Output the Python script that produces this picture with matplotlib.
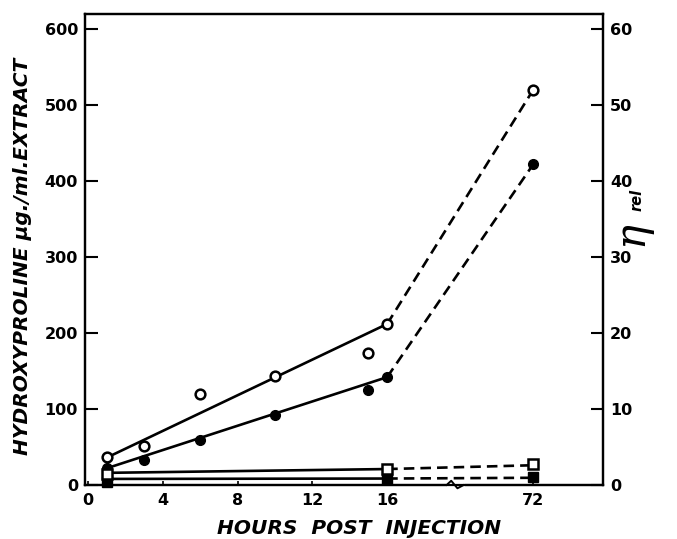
import numpy as np
import matplotlib
matplotlib.use("Agg")
import matplotlib.pyplot as plt

# ---------------- data ----------------
hours = [1, 3, 6, 10, 15, 16, 72]
hyp_open = [37, 51, 120, 143, 174, 212, 520]      # open circles (left axis)
hyp_filled = [22, 33, 59, 92, 125, 142, 422]      # filled circles (left axis)

sq_hours = [1, 16, 72]
eta_open = [1.4, 2.1, 2.7]                         # open squares (right axis)
eta_filled = [0.4, 0.8, 1.05]                      # filled squares (right axis)

# drawn trend lines (solid 1-16 h, dashed 16-72 h)
line_hours = [1, 16, 72]
hyp_open_line = [36, 212, 520]
hyp_filled_line = [22, 142, 422]
eta_open_line = [1.6, 2.1, 2.6]
eta_filled_line = [0.8, 0.85, 0.95]

xticks = [0, 4, 8, 12, 16, 72]
xticklabels = ["0", "4", "8", "12", "16", "72"]
yticks_left = [0, 100, 200, 300, 400, 500, 600]
yticks_right = [0, 10, 20, 30, 40, 50, 60]

# ---------------- broken x scale ----------------
K = 0.1394  # compression of the 16-72 h segment


def fwd(t):
    t = np.asarray(t, dtype=float)
    return np.where(t <= 16, t, 16 + (t - 16) * K)


def inv(s):
    s = np.asarray(s, dtype=float)
    return np.where(s <= 16, s, 16 + (s - 16) / K)


fig = plt.figure(figsize=(6.77, 5.39), dpi=100)
ax = fig.add_axes([85 / 677, 54 / 539, 518 / 677, 471 / 539])
ax.set_xscale("function", functions=(fwd, inv))
ax.set_xlim(-0.16, 98.8)
ax.set_ylim(0, 620)

ax2 = ax.twinx()
ax2.set_ylim(0, 62)

lw = 1.9
dash = (0, (4, 2.3))

# circles (left axis)
for vals in (hyp_open_line, hyp_filled_line):
    ax.plot(line_hours[:2], vals[:2], color="black", lw=lw, solid_capstyle="butt", zorder=2)
    ax.plot(line_hours[1:], vals[1:], color="black", lw=lw, ls=dash, zorder=2)
ax.plot(hours, hyp_open, ls="none", marker="o", ms=7, mfc="white", mec="black", mew=1.8, zorder=4)
ax.plot(hours, hyp_filled, ls="none", marker="o", ms=7, mfc="black", mec="black", zorder=4)

# squares (right axis)
for vals in (eta_open_line, eta_filled_line):
    ax2.plot(line_hours[:2], vals[:2], color="black", lw=lw, solid_capstyle="butt", zorder=2)
    ax2.plot(line_hours[1:], vals[1:], color="black", lw=lw, ls=dash, zorder=2)
ax2.plot(sq_hours, eta_filled, ls="none", marker="s", ms=7.5, mfc="black", mec="black", zorder=4, clip_on=False)
ax2.plot(sq_hours, eta_open, ls="none", marker="s", ms=7.5, mfc="white", mec="black", mew=1.8, zorder=5, clip_on=False)

# ticks / labels
tickfont = dict(fontsize=11.5, fontweight="bold")
ax.set_xticks(xticks)
ax.set_xticklabels(xticklabels, **tickfont)
ax.set_yticks(yticks_left)
ax.set_yticklabels([str(v) for v in yticks_left], **tickfont)
ax2.set_yticks(yticks_right)
ax2.set_yticklabels([str(v) for v in yticks_right], **tickfont)
ax.xaxis.set_minor_locator(matplotlib.ticker.NullLocator())

ax.tick_params(axis="y", direction="in", length=9, width=1.5, pad=5)
ax.tick_params(axis="x", direction="in", length=3, width=1.2, pad=6)
ax2.tick_params(axis="y", direction="in", length=9, width=1.5, pad=5)
for a in (ax, ax2):
    for sp in a.spines.values():
        sp.set_linewidth(1.6)

fig.text(359 / 677, 1 - 528 / 539, "HOURS  POST  INJECTION", fontsize=14.5,
         fontweight="bold", fontstyle="italic", ha="center", va="center")
ax.set_ylabel("HYDROXYPROLINE μg./ml.EXTRACT", fontsize=14.5, fontweight="bold",
              fontstyle="italic")
ax.yaxis.set_label_coords(-0.1015, 0.485)

# right-axis label η_rel
fig.text(630 / 677, 1 - 233 / 539, "η", fontsize=30, family="DejaVu Serif",
         style="italic", rotation=90, ha="center", va="center")
fig.text(637 / 677, 1 - 200 / 539, "rel", fontsize=10.5, fontweight="bold",
         style="italic", rotation=90, ha="center", va="center")

# axis-break zigzag on the bottom spine
ax.plot([0.700, 0.730], [0, 0], transform=ax.transAxes, color="white", lw=3,
        clip_on=False, zorder=6)
ax.plot([0.698, 0.707, 0.719, 0.731], [0, 0.009, -0.007, 0],
        transform=ax.transAxes, color="black", lw=1.4, clip_on=False, zorder=7)

fig.savefig("out.png", dpi=100)
